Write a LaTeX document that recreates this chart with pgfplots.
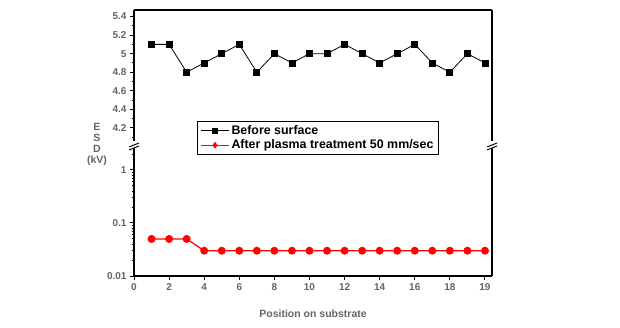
\documentclass[border=0pt]{standalone}
\usepackage{pgfplots}
\pgfplotsset{compat=1.18}
\usepackage{fontspec}
\setmainfont{Liberation Sans}
\definecolor{lbl}{RGB}{100,100,100}

\pgfplotstableread{
x y
1 5.1
2 5.1
3 4.8
4 4.9
5 5.0
6 5.1
7 4.8
8 5.0
9 4.9
10 5.0
11 5.0
12 5.1
13 5.0
14 4.9
15 5.0
16 5.1
17 4.9
18 4.8
19 5.0
20 4.9
}\before

\pgfplotstableread{
x y
1 0.05
2 0.05
3 0.05
4 0.03
5 0.03
6 0.03
7 0.03
8 0.03
9 0.03
10 0.03
11 0.03
12 0.03
13 0.03
14 0.03
15 0.03
16 0.03
17 0.03
18 0.03
19 0.03
20 0.03
}\after

\begin{document}
\begin{tikzpicture}
\useasboundingbox (0pt,0pt) rectangle (620pt,327pt);
\pgfplotsset{
  common/.style={
    scale only axis, width=358pt, xmin=0, xmax=20.4,
    axis line style={line width=1.6pt, black},
    tick align=outside, ytick pos=left,
    tick style={black, line width=1pt},
    major tick length=4pt, minor tick length=2.5pt,
    ticklabel style={font=\fontsize{10}{12}\selectfont\bfseries, text=lbl},
    /pgf/number format/assume math mode=true,
    clip=false,
  }}

\begin{axis}[common, at={(134pt,186pt)}, anchor=south west, height=131pt,
  ymin=4.06, ymax=5.47, axis x line*=top, xtick=\empty,
  ytick={4.2,4.4,4.6,4.8,5.0,5.2,5.4},
  yticklabels={4.2,4.4,4.6,4.8,5,5.2,5.4},
  minor ytick={4.1,4.3,4.5,4.7,4.9,5.1,5.3},
]
\addplot[black, line width=0.8pt, mark=square*, mark size=3pt] table[x=x,y=y] {\before};
\end{axis}

\begin{axis}[common, at={(134pt,51pt)}, anchor=south west, height=128pt,
  ymode=log, ymin=0.01, ymax=2.6, axis x line*=bottom,
  xtick={0,2,4,6,8,10,12,14,16,18,20},
  xticklabels={0,2,4,6,8,10,12,14,16,18,19},
  ytick={0.01,0.1,1}, yticklabels={0.01,0.1,1},
  minor ytick={0.02,0.03,0.04,0.05,0.06,0.07,0.08,0.09,0.2,0.3,0.4,0.5,0.6,0.7,0.8,0.9,2},
  legend cell align=left,
  legend style={at={(0.176,1.211)}, anchor=north west, draw=black, line width=1pt,
    font=\fontsize{12.4}{14.5}\selectfont\bfseries, row sep=0pt, inner xsep=3pt, inner ysep=2pt},
  legend image code/.code={%
    \draw[mark repeat=2,mark phase=2,#1] plot coordinates {(0pt,0pt) (14pt,0pt) (28pt,0pt)};},
]
\addlegendimage{black, line width=0.8pt, mark=square*, mark size=2.2pt}
\addlegendentry{Before surface}
\addlegendimage{red, line width=1pt, mark=diamond*, mark size=2.6pt}
\addlegendentry{After plasma treatment 50 mm/sec}
\addplot[red, line width=1.3pt, mark=*, mark size=3.3pt, forget plot] table[x=x,y=y] {\after};
\end{axis}

% axis breaks
\draw[line width=1pt] (129pt,180pt) -- (139pt,184pt);
\draw[line width=1pt] (129pt,177pt) -- (139pt,181pt);
\draw[line width=1pt] (487pt,180pt) -- (497pt,184pt);
\draw[line width=1pt] (487pt,177pt) -- (497pt,181pt);

\node[text=lbl, font=\fontsize{10.5}{11}\selectfont\bfseries, align=center] at (97pt,183pt) {E\\S\\D\\(kV)};
\node[text=lbl, font=\fontsize{10.5}{12}\selectfont\bfseries] at (313pt,13pt) {Position on substrate};
\end{tikzpicture}
\end{document}
